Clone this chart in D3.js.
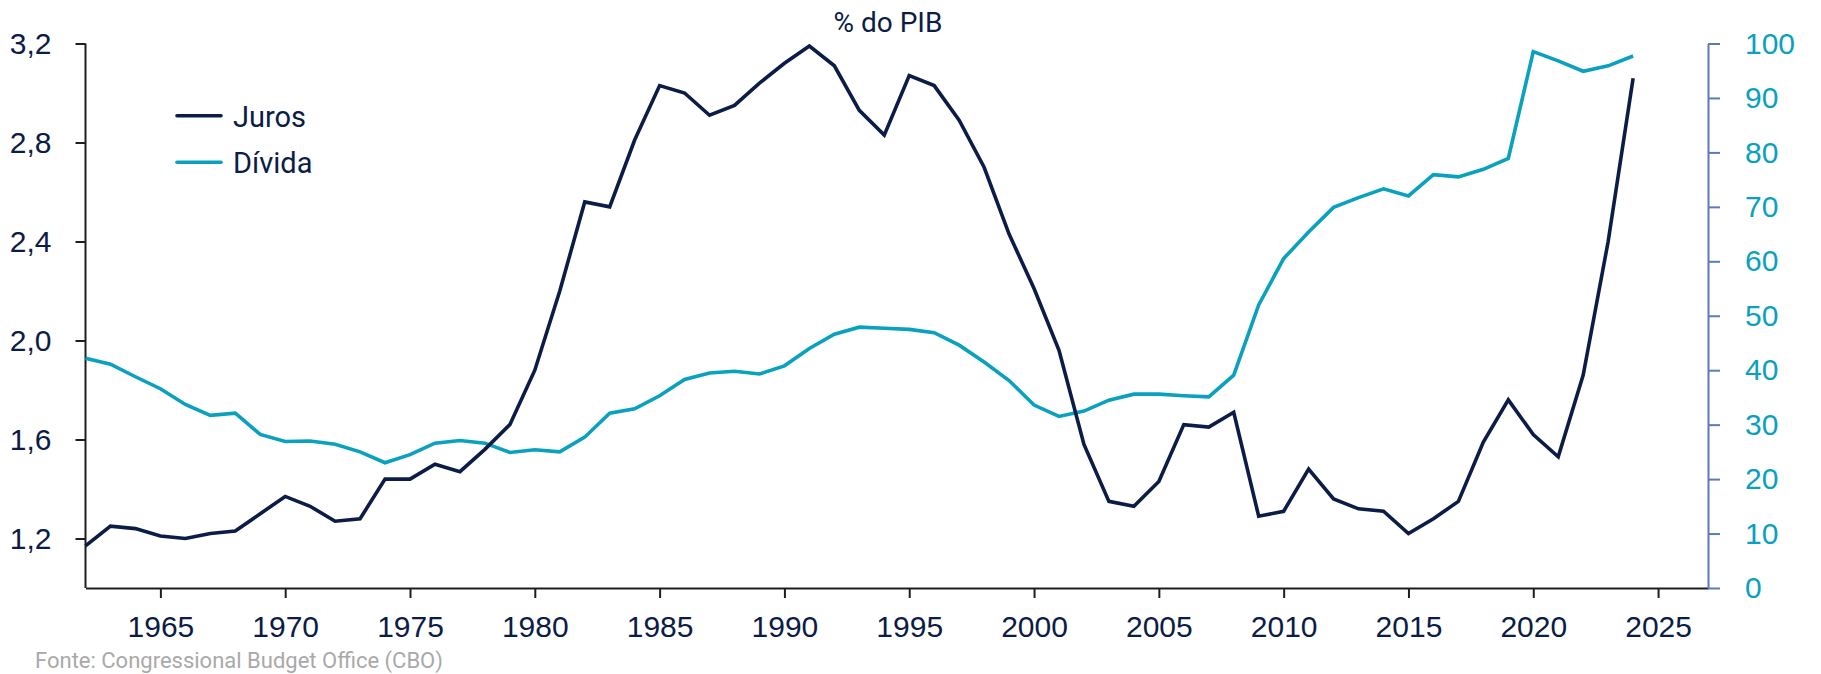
<!DOCTYPE html>
<html>
<head>
<meta charset="utf-8">
<script src="https://cdn.jsdelivr.net/npm/d3@7"></script>
<style>
  body { margin: 0; background: #fff; }
  svg { display: block; font-family: Roboto, "Noto Sans", sans-serif; }
</style>
</head>
<body>
<div class="juros-divida"></div>
<script>
// Juros x Dívida (% do PIB), 1962-2024
var years = [1962,1963,1964,1965,1966,1967,1968,1969,1970,1971,
             1972,1973,1974,1975,1976,1977,1978,1979,1980,1981,
             1982,1983,1984,1985,1986,1987,1988,1989,1990,1991,
             1992,1993,1994,1995,1996,1997,1998,1999,2000,2001,
             2002,2003,2004,2005,2006,2007,2008,2009,2010,2011,
             2012,2013,2014,2015,2016,2017,2018,2019,2020,2021,
             2022,2023,2024];

var juros = [1.17,1.25,1.24,1.21,1.20,1.22,1.23,1.30,1.37,1.33,
             1.27,1.28,1.44,1.44,1.50,1.47,1.56,1.66,1.88,2.20,
             2.56,2.54,2.81,3.03,3.00,2.91,2.95,3.04,3.12,3.19,
             3.11,2.93,2.83,3.07,3.03,2.89,2.70,2.43,2.21,1.96,
             1.58,1.35,1.33,1.43,1.66,1.65,1.71,1.29,1.31,1.48,
             1.36,1.32,1.31,1.22,1.28,1.35,1.59,1.76,1.62,1.53,
             1.86,2.40,3.06];

var divida = [42.2,41.1,38.8,36.6,33.7,31.7,32.1,28.2,26.9,27.0,
              26.4,25.0,23.0,24.5,26.6,27.1,26.6,24.9,25.4,25.0,
              27.7,32.1,32.9,35.3,38.3,39.5,39.8,39.3,40.8,44.0,
              46.6,47.9,47.7,47.5,46.9,44.6,41.5,38.1,33.6,31.5,
              32.5,34.5,35.6,35.6,35.3,35.1,39.1,52.0,60.5,65.4,
              69.9,71.7,73.3,72.0,75.9,75.5,76.9,78.9,98.5,96.8,
              94.9,95.9,97.7];

var xTicks = [1965,1970,1975,1980,1985,1990,1995,2000,2005,2010,2015,2020,2025];
var leftTicks = [1.2,1.6,2.0,2.4,2.8,3.2];
var rightTicks = [0,10,20,30,40,50,60,70,80,90,100];
var seriesNames = ["Juros", "Dívida"];

var width = 1821,
    height = 674,
    margin = {top: 43.5, right: 113, bottom: 86, left: 85.5},
    navy = "#0b1c46",
    teal = "#0aa1bf",
    rightAxisColor = "#5b7bb8";

var ptbr = d3.formatLocale({decimal: ",", thousands: ".", grouping: [3], currency: ["R$", ""]});

var svg = d3.select(".juros-divida")
    .append("svg")
    .attr("width", width)
    .attr("height", height);

var x = d3.scaleLinear().domain([1962, 2027]).range([margin.left, width - margin.right]),
    yL = d3.scaleLinear().domain([1.0, 3.2]).range([height - margin.bottom, margin.top]),
    yR = d3.scaleLinear().domain([0, 100]).range([height - margin.bottom, margin.top]);

// title
svg.append("text")
    .attr("x", 888)
    .attr("y", 32)
    .attr("text-anchor", "middle")
    .style("font-size", "28px")
    .style("fill", navy)
    .text("% do PIB");

// axes
var gx = svg.append("g")
    .attr("class", "axis axis--x")
    .attr("transform", "translate(0," + (height - margin.bottom) + ")")
    .call(d3.axisBottom(x).tickValues(xTicks).tickFormat(d3.format("d")).tickSize(10).tickPadding(18).tickSizeOuter(0));

var gl = svg.append("g")
    .attr("class", "axis axis--left")
    .attr("transform", "translate(" + margin.left + ",0)")
    .call(d3.axisLeft(yL).tickValues(leftTicks).tickFormat(ptbr.format(".1f")).tickSize(10).tickPadding(24).tickSizeOuter(0));

var gr = svg.append("g")
    .attr("class", "axis axis--right")
    .attr("transform", "translate(" + (width - margin.right) + ",0)")
    .call(d3.axisRight(yR).tickValues(rightTicks).tickSize(12).tickPadding(25).tickSizeOuter(0));

[gx, gl].forEach(function(g) {
    g.select(".domain").attr("stroke", "#1e1e1e").attr("stroke-width", 2);
    g.selectAll(".tick line").attr("stroke", "#1e1e1e").attr("stroke-width", 2);
    g.selectAll(".tick text").style("font-size", "30px").style("fill", navy);
});
gl.select(".domain").attr("d", "M0," + yL(3.2) + "V" + yL(1.0));

gr.select(".domain").attr("stroke", rightAxisColor).attr("stroke-width", 2);
gr.selectAll(".tick line").attr("stroke", rightAxisColor).attr("stroke-width", 2);
gr.selectAll(".tick text").style("font-size", "30px").style("fill", teal);

// lines
var lineL = d3.line()
    .x(function(d, i) { return x(years[i]); })
    .y(function(d) { return yL(d); });

var lineR = d3.line()
    .x(function(d, i) { return x(years[i]); })
    .y(function(d) { return yR(d); });

svg.append("path")
    .datum(divida)
    .attr("fill", "none")
    .attr("stroke", teal)
    .attr("stroke-width", 3.6)
    .attr("d", lineR);

svg.append("path")
    .datum(juros)
    .attr("fill", "none")
    .attr("stroke", navy)
    .attr("stroke-width", 3.6)
    .attr("d", lineL);

// legend
var legend = svg.append("g").attr("class", "legend");
var legendColors = [navy, teal];
seriesNames.forEach(function(name, i) {
    var ly = 115.7 + i * 46.6;
    legend.append("line")
        .attr("x1", 177).attr("x2", 221)
        .attr("y1", ly).attr("y2", ly)
        .attr("stroke", legendColors[i])
        .attr("stroke-width", 3.6)
        .attr("stroke-linecap", "round");
    legend.append("text")
        .attr("x", 233)
        .attr("y", ly + 11)
        .style("font-size", "29px")
        .style("fill", navy)
        .text(name);
});

// source
svg.append("text")
    .attr("x", 35)
    .attr("y", 668)
    .style("font-size", "22px")
    .style("fill", "#a9a9a9")
    .text("Fonte: Congressional Budget Office (CBO)");
</script>
</body>
</html>
